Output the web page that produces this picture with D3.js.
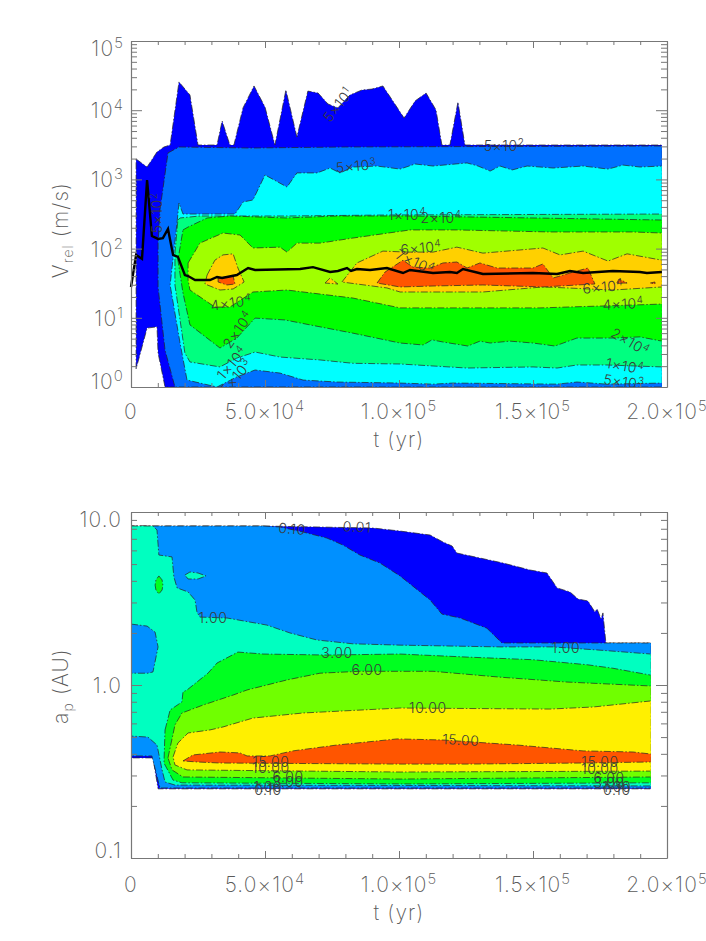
<!DOCTYPE html>
<html>
<head>
<meta charset="utf-8">
<script src="https://cdn.jsdelivr.net/npm/d3@7"></script>
<style>
  html, body { margin: 0; padding: 0; background: #fff; }
  svg { display: block; }
  text { font-family: Inter, "DejaVu Sans", sans-serif; font-weight: 200; fill: #5a5a5a; letter-spacing: 1.1px; }
  text.contour { font-weight: 300; fill: #3a3a3a; letter-spacing: 0.6px; }
</style>
</head>
<body>
<script>
// t in yr, velocity in m/s. each contour is a closed outline [t, V]
const vContour50 = [[1900,1970],[6000,1510],[9700,2490],[12300,2940],[14600,3140],[17900,25600],[22000,16600],[25000,3140],[32100,3140],[34000,6980],[36900,3140],[38400,3140],[41800,10800],[45900,22400],[50000,11100],[53700,3140],[57800,19600],[61900,4100],[66000,18900],[69800,17700],[73500,12300],[77200,10800],[81700,16600],[86200,19600],[89900,20200],[94000,22400],[101900,7710],[106000,13600],[110100,17700],[113800,10100],[116000,3140],[119000,3140],[122000,13100],[124600,3140],[198100,3140],[198100,1],[12700,1],[10100,3.1],[9700,7.4],[6000,7.1],[1900,1.82]];
const vContour500 = [[13800,2410],[17900,2940],[44400,2840],[80000,2940],[198100,3040],[198100,1],[16400,1],[12700,3.4],[10100,27.9],[10100,120],[10800,361]];
const vContour5e3 = [[17200,242],[17900,456],[19400,316],[38800,316],[41800,471],[45500,504],[50000,1160],[58200,776],[61900,1240],[69400,1240],[74300,1460],[78000,1240],[82800,1510],[91800,1560],[100400,1410],[106000,1670],[112700,1560],[125400,1730],[129500,1560],[134000,1320],[137700,1560],[142200,1370],[147800,1560],[157500,1460],[168700,1560],[178000,1410],[183600,1610],[189900,1510],[198100,1560],[198100,1.14],[177600,1.10],[166400,1.18],[159000,1.10],[120100,1.14],[112700,1.10],[100400,1.14],[76900,1.18],[64200,1.26],[55600,1.59],[46300,1.76],[39500,1.40],[32100,1],[20900,1.26],[18300,4.32],[14600,29.8]];
const vContour1e4 = [[17500,259],[18300,277],[25700,296],[58200,296],[95500,306],[198100,316],[198100,1.95],[177600,2.08],[166400,2.08],[159000,1.88],[150000,1.95],[125400,1.88],[100400,2.15],[82800,2.2],[70500,2.46],[55600,2.71],[46300,3.2],[39500,2.62],[33200,1.95],[22000,2.3],[20100,3.1],[16400,29.8],[16400,86]];
const vContour2e4 = [[19400,186],[21300,205],[28400,277],[36900,296],[58200,277],[76900,296],[104100,296],[150000,277],[198100,259],[198100,4.6],[189900,5.3],[179800,5.1],[166400,5.1],[158200,3.91],[150000,4.32],[141400,4.6],[134000,4.32],[130200,4.6],[125700,3.91],[116400,4.47],[112300,4.8],[109000,4.05],[100400,4.32],[82800,6.0],[66800,7.9],[57500,9.3],[46300,9.9],[39500,5.1],[33200,3.66],[22000,7.9],[19400,22.8],[17500,68]];
const vContour4e4 = [[21300,62],[25700,120],[34300,168],[40700,157],[45500,102],[55600,105],[58200,89],[61900,120],[70500,120],[82800,142],[104100,186],[121600,186],[156300,174],[187300,174],[198100,168],[198100,15.8],[187300,15.3],[152600,13.9],[125400,13.9],[100400,13.9],[82800,19.3],[58200,25.2],[45500,23.6],[36900,14.3],[31300,14.3],[22000,25.2],[21300,35.2]];
const vContour6e4a = [[28400,41.5],[31300,68],[34300,81],[38100,84],[39900,52.4],[42200,32.9],[38100,26.1],[33200,25.2],[27600,30.8]];
const vContour6e4b = [[72400,31.8],[74300,37.6],[77200,30.8]];
const vContour6e4c = [[78700,32.9],[84300,62],[94000,92],[103000,89],[112700,89],[121600,105],[131300,86],[153700,102],[160100,81],[168700,92],[178000,66],[185100,84],[198100,68],[198100,27.9],[179800,25.2],[162700,27.0],[153700,27.9],[131300,23.6],[112700,23.6],[100400,23.6],[95500,27.0]];
const vContour7e4a = [[32500,37.6],[38100,40.2],[38800,30.8],[35800,29.8],[32500,32.9]];
const vContour7e4b = [[91800,31.8],[94800,45.9],[101500,68],[105200,54],[111600,52.4],[116400,62],[121600,64],[125400,52.4],[130200,62],[136600,52.4],[150000,52.4],[153700,60],[157500,37.6],[163800,44.4],[170500,52.4],[173100,30.8],[153700,27.9],[131300,29.8],[112700,28.8],[100400,27.9]];
const vContour7e4c = [[181300,31.8],[182100,36.4],[185100,31.8]];
const vContour7e4d = [[193700,31.8],[195500,32.9],[195500,30.8]];
const vMeanLine = [[0,27.9],[1900,81],[4100,71],[6000,980],[7800,152],[10100,138],[11900,142],[13800,192],[15700,81],[17500,76],[20100,41.5],[21300,40.2],[23900,35.2],[29500,35.2],[32100,38.9],[34000,37.6],[39500,41.5],[43700,52.4],[46300,49.1],[63100,50.7],[67900,54],[74300,45.9],[77200,47.5],[80600,52.4],[82100,47.5],[84300,50.7],[89200,49.1],[95500,52.4],[101500,44.4],[104100,49.1],[112700,44.4],[119000,45.9],[121600,44.4],[123900,50.7],[131300,42.9],[150000,44.4],[159000,42.9],[163800,47.5],[168700,44.4],[179800,47.5],[189900,45.9],[192500,44.4],[198100,45.9]];

// text, superscript, t, V, angle
const vLabels = [
  ["5×10","1",77200,11900,-52],["5×10","3",84000,1560,-5],["5×10","2",139200,3040,0],["5×10","2",9700,327,-90],
  ["1×10","4",103000,306,0],["2×10","4",115700,277,0],["6×10","4",108200,102,-5],["7×10","4",106000,64,25],
  ["6×10","4",176100,27.9,-5],["4×10","4",183600,15.8,-3],["4×10","4",37300,16.4,-8],["2×10","4",39900,6.7,-55],
  ["1×10","4",37700,2.22,-50],["5×10","3",39200,1.40,-50],["2×10","4",186200,4.47,30],["1×10","4",184300,2.0,10],["5×10","3",183900,1.18,8]
];

// semimajor axis panel: t in yr, a in AU
const aContour001 = [[49300,8.30],[90300,8.08],[100400,7.76],[111600,7.36],[116400,6.71],[119800,6.36],[121600,5.79],[130200,5.42],[138800,5.07],[148900,4.62],[155200,4.44],[159000,3.64],[163800,3.45],[166800,3.14],[170500,3.06],[173100,2.64],[173900,2.75],[175400,2.41],[176100,2.61],[177200,1.75],[194000,1.75],[194000,.251],[10100,.251],[8200,.379],[0,.379],[0,8.30]];
const aContour010 = [[49300,8.30],[55600,8.19],[64200,7.66],[73100,7.07],[79100,6.44],[85400,5.64],[92900,5.07],[100400,4.27],[106000,3.64],[111600,3.10],[116000,2.57],[122800,2.44],[132800,2.13],[138400,1.75],[194000,1.75],[194000,.254],[10800,.254],[7800,.389],[0,.389],[0,8.30]];
const aContour100 = [[0,8.30],[8200,8.30],[9700,7.87],[10400,5.64],[15300,5.50],[16000,4.21],[17200,3.64],[21300,3.45],[23900,3.10],[24600,2.64],[25700,2.47],[35800,2.44],[50700,2.22],[59300,2.0],[69400,1.82],[82800,1.73],[100400,1.70],[137700,1.66],[157500,1.66],[175000,1.59],[194000,1.51],[194000,.261],[16400,.264],[12700,.275],[11600,.323],[9700,.450],[6300,.500],[0,.507]];
const aLobe010 = [[0,2.25],[6000,2.19],[9000,2.02],[10100,1.66],[8200,1.19],[6300,1.17],[0,1.17]];
const aIsland100 = [[20100,4.32],[22000,4.50],[25000,4.44],[28000,4.27],[25000,4.10],[21300,4.10]];
const aIsland300 = [[10400,4.27],[11600,4.05],[11900,3.78],[11600,3.54],[10400,3.36],[9300,3.54],[9000,3.78],[9300,4.05]];
const aContour300 = [[12700,.550],[14600,.717],[19000,.798],[19400,.912],[20900,.936],[28700,1.17],[32100,1.34],[39900,1.55],[49300,1.51],[73100,1.49],[100400,1.51],[125400,1.45],[150000,1.40],[170100,1.31],[179800,1.25],[194000,1.14],[194000,.272],[104100,.268],[19000,.272],[15700,.282],[12300,.354]];
const aContour600 = [[13800,.379],[16400,.587],[19000,.689],[26900,.766],[38100,.875],[43300,.936],[58200,1.07],[70500,1.17],[85400,1.20],[112700,1.20],[137700,1.11],[162700,1.04],[194000,.987],[194000,.294],[100400,.286],[19400,.294],[15300,.323]];
const aContour1000 = [[15700,.384],[17500,.462],[21300,.528],[29500,.550],[34300,.572],[45500,.644],[64200,.689],[100400,.736],[156300,.726],[172400,.746],[194000,.809],[194000,.318],[100400,.314],[20900,.323],[16400,.345]];
const aContour1500 = [[19400,.364],[23100,.394],[33200,.410],[40700,.405],[43300,.389],[51900,.389],[60400,.416],[76900,.450],[99300,.488],[116400,.481],[144000,.450],[168700,.416],[187300,.410],[194000,.399],[194000,.359],[168700,.354],[125400,.349],[100400,.349],[33200,.354],[24600,.359]];

const aLabels = [
  ["0.10","",60100,7.97,5],["0.01","",84300,8.19,3],["1.00","",30600,2.44,0],["1.00","",162300,1.64,0],
  ["3.00","",76900,1.53,0],["6.00","",88100,1.22,0],["10.00","",110800,.736,0],["15.00","",123100,.481,3],
  ["15.00","",52200,.359,0],["10.00","",52200,.331,0],["6.00","",58600,.294,0],["3.00","",58600,.275,0],["1.00","",51100,.257,0],["0.10","",51100,.247,0],
  ["15.00","",175000,.359,0],["10.00","",175000,.327,0],["6.00","",178400,.290,0],["3.00","",178400,.272,0],["1.00","",181300,.257,0],["0.10","",181300,.247,0]
];

const xMajor = [0, 50000, 100000, 150000, 200000];
const xMinor = d3.range(0, 200001, 10000).filter(d => d % 50000 !== 0);
const xTickLabels = [["0",""],["5.0×10","4"],["1.0×10","5"],["1.5×10","5"],["2.0×10","5"]];
const vMajor = [1, 10, 100, 1000, 10000, 100000];
const vTickExp = ["0","1","2","3","4","5"];
const aMajor = [0.1, 1, 10];
const aTickLabels = ["0.1","1.0","10.0"];
const mantissa = [2,3,4,5,6,7,8,9];

const width = 706;
const height = 941;
const left = 131, right = 667;

const svg = d3.select("body").append("svg").attr("width", width).attr("height", height);
const defs = svg.append("defs");

const x = d3.scaleLinear().domain([0, 200000]).range([left, right]);
const yV = d3.scaleLog().domain([1, 100000]).range([387, 41]);
const yA = d3.scaleLog().domain([0.1, 10]).range([858, 512]);

// fills run to the edge of the data, the dash-dot lines stop just short of it
function fillContours(yScale, list, tEnd, id) {
  defs.append("clipPath").attr("id", id).append("rect")
    .attr("x", left).attr("y", yScale.range()[1])
    .attr("width", x(tEnd) - left - 0.6).attr("height", yScale.range()[0] - yScale.range()[1]);
  const path = d3.line().x(d => x(d[0])).y(d => yScale(d[1])).curve(d3.curveLinearClosed);
  const g = svg.append("g");
  list.forEach(d => {
    g.append("path").attr("d", path(d[0])).attr("fill", d[1]);
    g.append("path").attr("d", path(d[0]))
      .attr("fill", "none")
      .attr("stroke", "#222")
      .attr("stroke-width", 0.7)
      .attr("stroke-dasharray", "7 2 1.5 2")
      .attr("clip-path", "url(#" + id + ")");
  });
}

function withSup(sel, base, sup, supSize, up) {
  sel.append("tspan").text(base);
  if (sup) sel.append("tspan").attr("dy", -up).attr("font-size", supSize).text(sup);
}

function contourLabels(yScale, list, clip) {
  const g = svg.append("g");
  if (clip) g.attr("clip-path", "url(#" + clip + ")");
  list.forEach(d => {
    const t = g.append("text")
      .attr("class", "contour")
      .attr("transform", `translate(${x(d[2])},${yScale(d[3])}) rotate(${d[4]})`)
      .attr("text-anchor", "middle")
      .attr("dy", "0.35em")
      .attr("font-size", 14);
    withSup(t, d[0], d[1], 10, 5);
  });
}

function drawFrame(yScale, major, minor) {
  const y0 = yScale.range()[0], y1 = yScale.range()[1];
  const axes = [
    [d3.axisBottom(x).tickValues(xMajor).tickSize(-7), [0, y0], true],
    [d3.axisBottom(x).tickValues(xMinor).tickSize(-4), [0, y0], false],
    [d3.axisTop(x).tickValues(xMajor).tickSize(-7), [0, y1], true],
    [d3.axisTop(x).tickValues(xMinor).tickSize(-4), [0, y1], false],
    [d3.axisLeft(yScale).tickValues(major).tickSize(-11), [left, 0], true],
    [d3.axisLeft(yScale).tickValues(minor).tickSize(-6), [left, 0], false],
    [d3.axisRight(yScale).tickValues(major).tickSize(-11), [right, 0], true],
    [d3.axisRight(yScale).tickValues(minor).tickSize(-6), [right, 0], false]
  ];
  axes.forEach(a => {
    const g = svg.append("g")
      .attr("transform", `translate(${a[1][0]},${a[1][1]})`)
      .call(a[0].tickFormat("").tickSizeOuter(0));
    g.selectAll("line").attr("stroke", "#777");
    g.select(".domain").attr("stroke", "#777").attr("stroke-width", a[2] ? 1.2 : 0);
  });
}

function xLabels(yBase) {
  xMajor.forEach((d, i) => {
    const t = svg.append("text").attr("x", x(d)).attr("y", yBase)
      .attr("text-anchor", "middle").attr("font-size", 21);
    withSup(t, xTickLabels[i][0], xTickLabels[i][1], 15, 8);
  });
  svg.append("text").attr("x", x(100000)).attr("y", yBase + 28)
    .attr("text-anchor", "middle").attr("font-size", 21).text("t (yr)");
}

defs.append("clipPath").attr("id", "topClip").append("rect")
  .attr("x", left).attr("y", 41).attr("width", right - left).attr("height", 346);

// top panel
fillContours(yV, [
  [vContour50, "#0000ff"], [vContour500, "#0070ff"], [vContour5e3, "#00ffff"], [vContour1e4, "#00ff80"],
  [vContour2e4, "#00ff00"], [vContour4e4, "#a0ff00"], [vContour6e4a, "#ffd000"], [vContour6e4b, "#ffd000"],
  [vContour6e4c, "#ffd000"], [vContour7e4a, "#ff5500"], [vContour7e4b, "#ff5500"], [vContour7e4c, "#ff5500"], [vContour7e4d, "#ff5500"]
], 198100, "vLines");
svg.append("path")
  .attr("d", d3.line().x(d => x(d[0])).y(d => yV(d[1]))(vMeanLine))
  .attr("fill", "none").attr("stroke", "#000").attr("stroke-width", 2.4);
contourLabels(yV, vLabels, "topClip");
drawFrame(yV, vMajor, vMajor.slice(0, -1).flatMap(d => mantissa.map(m => m * d)));
xLabels(419);
vMajor.forEach((d, i) => {
  const inset = i === 5 ? 7 : (i === 0 ? -6 : 0);
  const t = svg.append("text").attr("x", 124).attr("y", yV(d) + 8 + inset)
    .attr("text-anchor", "end").attr("font-size", 21);
  withSup(t, "10", vTickExp[i], 15, 8);
});
const vTitle = svg.append("text").attr("transform", `translate(68,230) rotate(-90)`)
  .attr("text-anchor", "middle").attr("font-size", 21);
vTitle.append("tspan").text("V");
vTitle.append("tspan").attr("dy", 5).attr("font-size", 14).text("rel");
vTitle.append("tspan").attr("dy", -5).text(" (m/s)");

// bottom panel
fillContours(yA, [
  [aContour001, "#0000ff"], [aContour010, "#0090ff"], [aContour100, "#00ffc0"], [aLobe010, "#0090ff"],
  [aIsland100, "#00ffc0"], [aIsland300, "#00ff20"], [aContour300, "#00ff20"], [aContour600, "#70ff00"],
  [aContour1000, "#fff000"], [aContour1500, "#ff5500"]
], 194000, "aLines");
contourLabels(yA, aLabels, null);
drawFrame(yA, aMajor, [0.1, 1].flatMap(d => mantissa.map(m => m * d)));
xLabels(892);
aMajor.forEach((d, i) => {
  const inset = i === 2 ? 15 : (i === 0 ? 0 : 8);
  svg.append("text").attr("x", 122).attr("y", yA(d) + inset)
    .attr("text-anchor", "end").attr("font-size", 21).text(aTickLabels[i]);
});
const aTitle = svg.append("text").attr("transform", `translate(68,686) rotate(-90)`)
  .attr("text-anchor", "middle").attr("font-size", 21);
aTitle.append("tspan").text("a");
aTitle.append("tspan").attr("dy", 5).attr("font-size", 14).text("p");
aTitle.append("tspan").attr("dy", -5).text(" (AU)");
</script>
</body>
</html>
